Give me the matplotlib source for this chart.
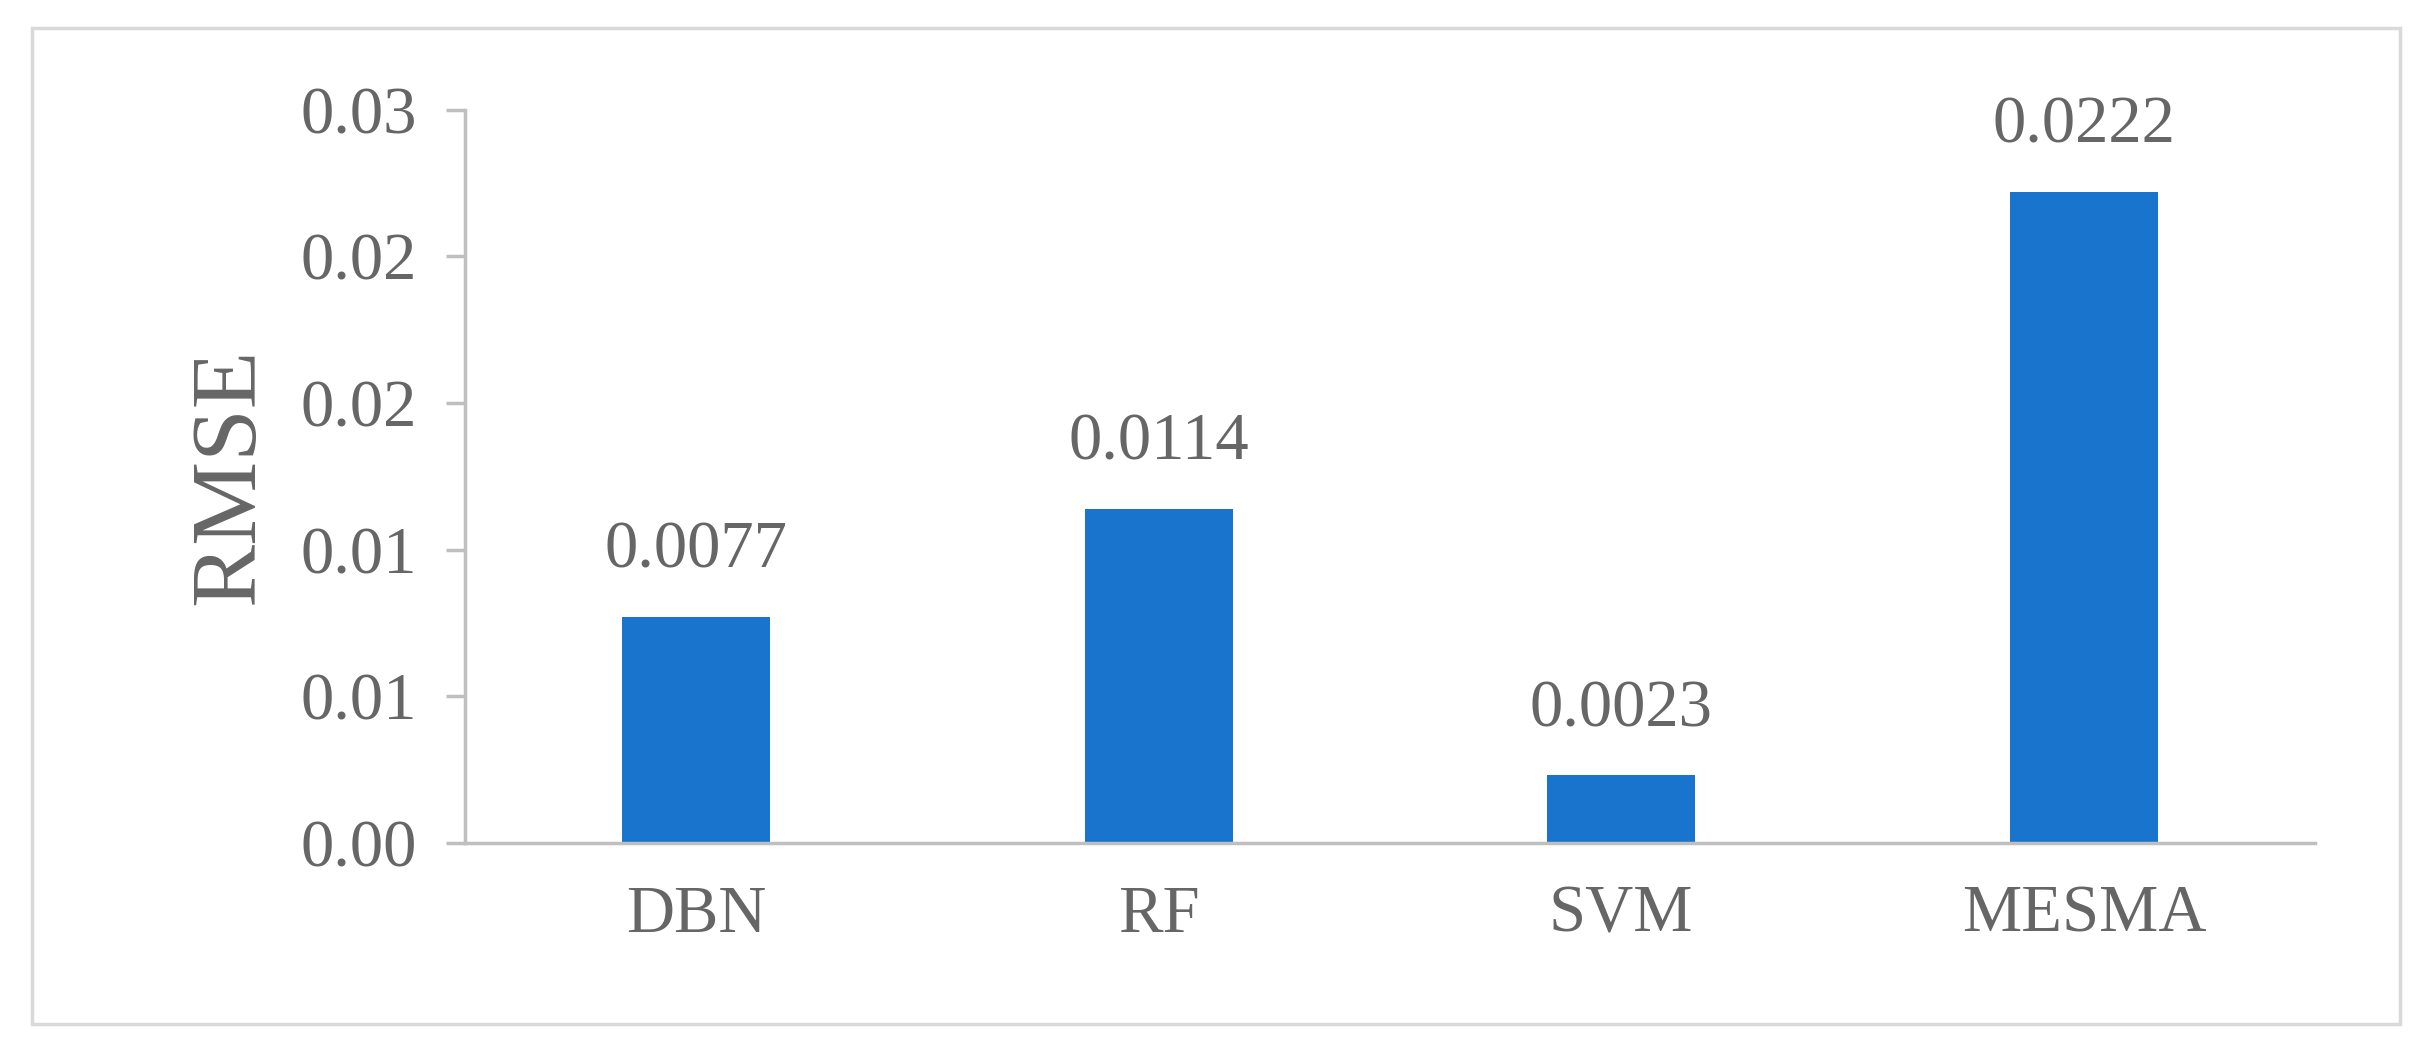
import matplotlib.pyplot as plt
from matplotlib.patches import Rectangle

models = ['DBN', 'RF', 'SVM', 'MESMA']
rmse = [0.0077, 0.0114, 0.0023, 0.0222]
y_ticks = [0.0, 0.005, 0.010, 0.015, 0.020, 0.025]
y_tick_labels = ['0.00', '0.01', '0.01', '0.02', '0.02', '0.03']

plt.rcParams['font.family'] = ['Liberation Serif', 'DejaVu Serif']
grey_text = '#666666'
grey_line = '#BFBFBF'

fig = plt.figure(figsize=(24.32, 10.55), dpi=100)
fig.patches.append(Rectangle((0.013, 0.029), 0.974, 0.944, transform=fig.transFigure,
                             fill=False, edgecolor='#D9D9D9', linewidth=2.5))
ax = fig.add_axes([0.191, 0.201, 0.761, 0.695])

x = range(len(models))
bars = ax.bar(x, rmse, width=0.32, color='#1874CD')
for b, v in zip(bars, rmse):
    ax.text(b.get_x() + b.get_width() / 2, v + 0.0012, f'{v:.4f}',
            ha='center', va='bottom', fontsize=48, color=grey_text)

ax.set_xlim(-0.5, 3.5)
ax.set_ylim(0, 0.025)
ax.set_yticks(y_ticks)
ax.set_yticklabels(y_tick_labels)
ax.set_xticks(list(x))
ax.set_xticklabels(models)
ax.tick_params(axis='y', labelsize=48, colors=grey_text, length=14, width=2.5,
               color=grey_line, pad=20)
ax.tick_params(axis='x', labelsize=48, colors=grey_text, length=0, pad=30)
ax.set_ylabel('RMSE', fontsize=68, color=grey_text, labelpad=20)

for s in ['top', 'right']:
    ax.spines[s].set_visible(False)
for s in ['left', 'bottom']:
    ax.spines[s].set_color(grey_line)
    ax.spines[s].set_linewidth(2.5)

fig.savefig('out.png', dpi=100)
